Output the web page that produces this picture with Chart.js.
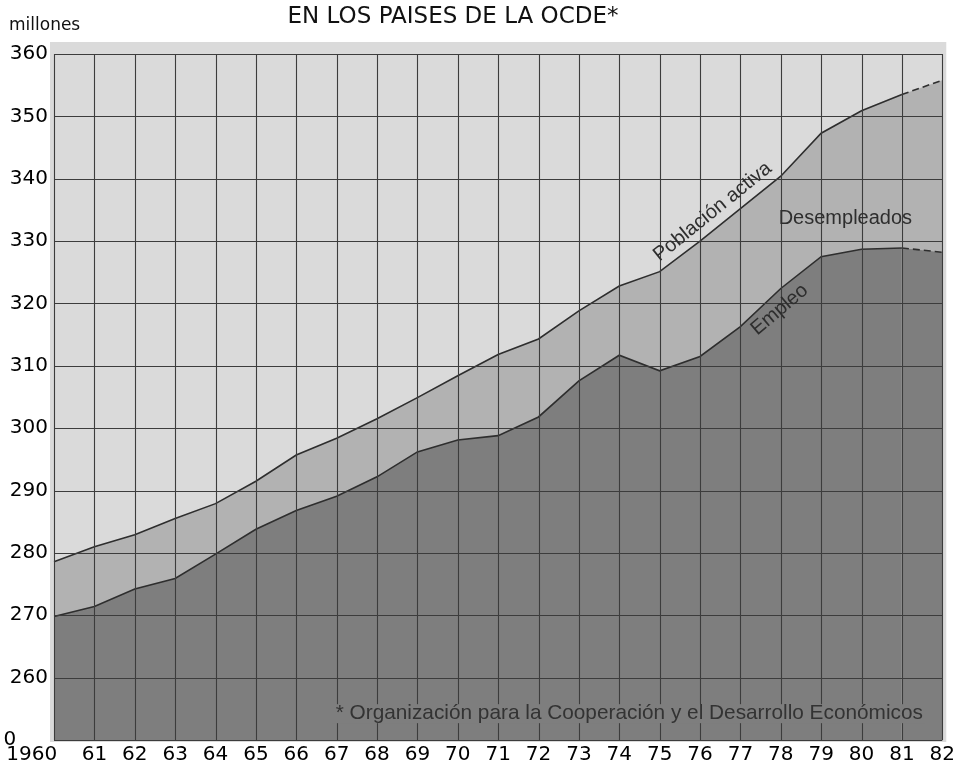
<!DOCTYPE html>
<html>
<head>
<meta charset="utf-8">
<script src="https://cdn.jsdelivr.net/npm/chart.js@4.4.1/dist/chart.umd.min.js"></script>
<style>
  html, body { margin: 0; padding: 0; background: #fff; }
  #wrap { width: 958px; height: 768px; }
</style>
</head>
<body>
<div id="wrap"><canvas id="OcdeChart" width="958" height="768"></canvas></div>
<script>
const years = ['1960', '61', '62', '63', '64', '65', '66', '67', '68', '69', '70',
    '71', '72', '73', '74', '75', '76', '77', '78', '79', '80', '81', '82'];

// millones
const poblacionActiva = [278.6, 281.0, 282.9, 285.5, 287.9, 291.5, 295.7, 298.4, 301.5, 304.9, 308.4,
    311.8, 314.3, 318.8, 322.8, 325.1, 330.0, 335.2, 340.4, 347.3, 350.9, 353.5, 355.8];
const empleo = [269.8, 271.4, 274.2, 275.9, 279.8, 283.8, 286.8, 289.1, 292.2, 296.2, 298.1,
    298.8, 301.8, 307.6, 311.7, 309.2, 311.5, 316.3, 322.4, 327.5, 328.7, 328.9, 328.2];

// 250 is the broken-axis bottom, printed as "0"
const yTicks = [250, 260, 270, 280, 290, 300, 310, 320, 330, 340, 350, 360];

const FONT = '"DejaVu Sans", Verdana, sans-serif';
const NOTE_FONT = '"Liberation Sans", Arial, Helvetica, sans-serif';
const LIGHT = '#dadada';
const MID = '#b2b2b2';
const DARK = '#7e7e7e';
const INK = '#2e2e2e';
const GRID = '#3c3c3c';

// last segment is an estimate -> dashed
const dashLast = {
    borderDash: (ctx) => ctx.p0DataIndex === years.length - 2 ? [7, 4] : undefined
};

const backdrop = {
    id: 'backdrop',
    beforeDraw(chart) {
        const { ctx, chartArea: a } = chart;
        ctx.save();
        ctx.fillStyle = LIGHT;
        ctx.fillRect(a.left - 4, a.top - 12, a.right - a.left + 8, a.bottom - a.top + 14);
        ctx.restore();
    }
};

// grid goes over the filled areas, like the printed chart
const gridOnTop = {
    id: 'gridOnTop',
    afterDatasetsDraw(chart) {
        const { ctx, chartArea: a } = chart;
        const x = chart.scales.x;
        const y = chart.scales.y;
        ctx.save();
        ctx.strokeStyle = GRID;
        ctx.lineWidth = 1.1;
        ctx.beginPath();
        x.ticks.forEach((t, i) => {
            const px = Math.round(x.getPixelForTick(i)) + 0.5;
            ctx.moveTo(px, a.top);
            ctx.lineTo(px, a.bottom);
        });
        y.ticks.forEach((t) => {
            const py = Math.round(y.getPixelForValue(t.value)) + 0.5;
            ctx.moveTo(a.left, py);
            ctx.lineTo(a.right, py);
        });
        ctx.stroke();
        ctx.restore();
    }
};

const notes = {
    id: 'notes',
    afterDraw(chart) {
        const { ctx } = chart;
        const x = chart.scales.x;
        const y = chart.scales.y;
        ctx.save();
        ctx.textBaseline = 'middle';

        ctx.fillStyle = '#111';
        ctx.font = '23px ' + FONT;
        ctx.textAlign = 'center';
        ctx.fillText('EN LOS PAISES DE LA OCDE*', 453, 17);

        ctx.font = '17px ' + FONT;
        ctx.textAlign = 'left';
        ctx.fillText('millones', 9, 26);

        ctx.fillStyle = INK;
        ctx.font = '20px ' + NOTE_FONT;

        ctx.save();
        ctx.translate(x.getPixelForValue(16.31), y.getPixelForValue(334.7));
        ctx.rotate(-0.68);
        ctx.textAlign = 'center';
        ctx.fillText('Población activa', 0, 0);
        ctx.restore();

        ctx.textAlign = 'center';
        ctx.fillText('Desempleados', x.getPixelForValue(19.6), y.getPixelForValue(333.7));

        ctx.save();
        ctx.translate(x.getPixelForValue(17.97), y.getPixelForValue(319.0));
        ctx.rotate(-0.70);
        ctx.fillText('Empleo', 0, 0);
        ctx.restore();

        // footnote, with a patch behind it so the grid breaks around the text
        const note = '* Organización para la Cooperación y el Desarrollo Económicos';
        ctx.font = '20.8px ' + NOTE_FONT;
        const w = ctx.measureText(note).width;
        const right = x.getPixelForValue(21.52);
        const cy = y.getPixelForValue(254.3);
        ctx.fillStyle = DARK;
        ctx.fillRect(right - w - 3, cy - 9, w + 6, 19);
        ctx.fillStyle = '#333';
        ctx.textAlign = 'right';
        ctx.fillText(note, right, cy);
        ctx.restore();
    }
};

const data = {
    labels: years,
    datasets: [
        {
            label: 'Empleo',
            data: empleo,
            borderColor: INK,
            borderWidth: 1.6,
            backgroundColor: DARK,
            fill: 'start',
            pointRadius: 0,
            tension: 0,
            segment: dashLast
        },
        {
            label: 'Población activa',
            data: poblacionActiva,
            borderColor: INK,
            borderWidth: 1.6,
            backgroundColor: MID,
            fill: '-1',
            pointRadius: 0,
            tension: 0,
            segment: dashLast
        }
    ]
};

const config = {
    type: 'line',
    data: data,
    plugins: [backdrop, gridOnTop, notes],
    options: {
        responsive: false,
        animation: false,
        events: [],
        layout: {
            padding: { left: 0, right: 15, top: 54, bottom: 0 }
        },
        plugins: {
            legend: { display: false },
            tooltip: { enabled: false },
            title: { display: false }
        },
        scales: {
            x: {
                type: 'category',
                offset: false,
                grid: { display: false, drawTicks: false },
                border: { display: false },
                ticks: {
                    autoSkip: false,
                    maxRotation: 0,
                    color: '#000',
                    padding: 3,
                    font: { family: FONT, size: 20 },
                    // first label sits left of its grid line
                    callback: (v, i) => i === 0 ? years[0] + '       ' : years[i]
                },
                afterFit: (scale) => { scale.height = 28; }
            },
            y: {
                min: 250,
                max: 360,
                afterBuildTicks: (scale) => { scale.ticks = yTicks.map((v) => ({ value: v })); },
                grid: { display: false, drawTicks: false },
                border: { display: false },
                ticks: {
                    color: '#000',
                    padding: 6,
                    font: { family: FONT, size: 20 },
                    callback: (v) => v === 250 ? '0     ' : String(v)
                },
                afterFit: (scale) => { scale.width = 54; }
            }
        }
    }
};

new Chart(document.getElementById('OcdeChart'), config);
</script>
</body>
</html>
